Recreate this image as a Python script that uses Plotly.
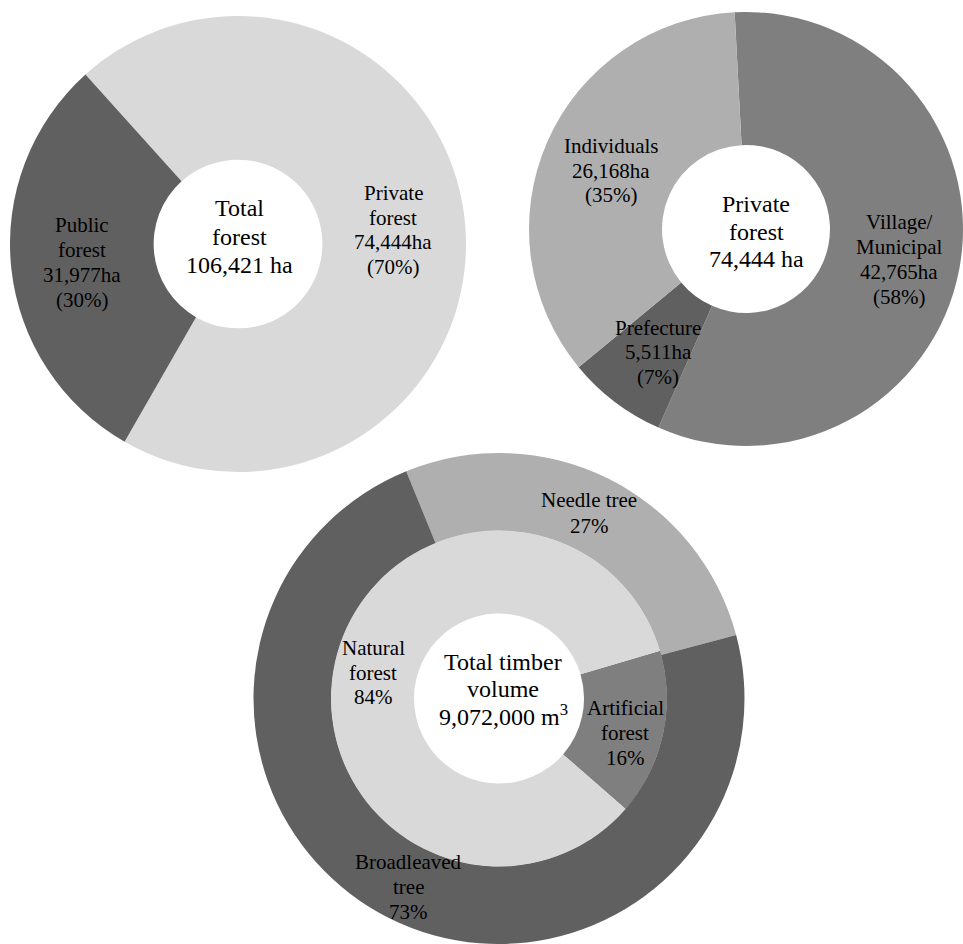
import plotly.graph_objects as go

# ---- data -------------------------------------------------------------
# Total forest area, split by ownership (ha)
own_names = ["Private\nforest", "Public\nforest"]
own_ha = [74444, 31977]
own_pct = [70, 30]
total_forest_ha = 106421

# Private forest, split by owner type (ha)
priv_names = ["Village/\nMunicipal", "Prefecture", "Individuals"]
priv_ha = [42765, 5511, 26168]
priv_pct = [58, 7, 35]
private_forest_ha = 74444

# Timber volume: tree type (outer ring) and forest origin (inner ring), %
tree_names = ["Needle tree", "Broadleaved\ntree"]
tree_pct = [27, 73]
origin_names = ["Artificial\nforest", "Natural\nforest"]
origin_pct = [16, 84]
timber_m3 = 9072000

# ---- styling ------------------------------------------------------------
W, H = 963, 944
FONT = "'Times New Roman', 'Liberation Serif', Tinos, serif"
own_colors = ["#d9d9d9", "#606060"]
priv_colors = ["#7f7f7f", "#606060", "#afafaf"]
tree_colors = ["#afafaf", "#606060"]
origin_colors = ["#7f7f7f", "#d9d9d9"]


def dom(x0, x1, y0, y1):
    """Pixel box (top-left origin) -> plotly domain in paper units."""
    return dict(x=[x0 / W, min(x1 / W, 1.0)], y=[max(1 - y1 / H, 0.0), 1 - y0 / H])


def donut(values, colors, domain, hole, rotation):
    return go.Pie(
        values=values,
        marker=dict(colors=colors, line=dict(width=0)),
        hole=hole,
        rotation=rotation,
        direction="clockwise",
        sort=False,
        textinfo="none",
        hoverinfo="skip",
        domain=domain,
    )


fig = go.Figure()
fig.add_trace(donut(own_ha, own_colors, dom(10, 466, 16, 472), 0.37, -42))
fig.add_trace(donut(priv_ha, priv_colors, dom(529, 963, 8, 450), 0.387, -3))
fig.add_trace(donut(tree_pct, tree_colors, dom(253, 745, 453, 944), 0.683, -22.2))
fig.add_trace(donut(origin_pct, origin_colors, dom(331, 667, 530.5, 866.5), 0.506, 73.5))

annotations = []


def label(lines, x, y, step, size):
    """Stacked text lines centred at pixel x, first line at pixel y."""
    for i, line in enumerate(lines):
        annotations.append(dict(
            text=line, x=x / W, y=1 - (y + i * step) / H,
            xref="paper", yref="paper", xanchor="center", yanchor="middle",
            showarrow=False, font=dict(family=FONT, size=size, color="#000000"),
        ))


# ownership donut
own_pos = [(393, 193, 24.7), (82, 225, 25)]
for name, ha, p, (x, y, s) in zip(own_names, own_ha, own_pct, own_pos):
    label(name.split("\n") + [f"{ha:,}ha", f"({p}%)"], x, y, s, 21)
label(["Total", "forest", f"{total_forest_ha:,} ha"], 239, 208, 28.5, 24)

# private forest donut
priv_pos = [(899, 222, 25), (658, 328, 24.5), (611, 146, 24.5)]
for name, ha, p, (x, y, s) in zip(priv_names, priv_ha, priv_pct, priv_pos):
    label(name.split("\n") + [f"{ha:,}ha", f"({p}%)"], x, y, s, 21)
label(["Private", "forest", f"{private_forest_ha:,} ha"], 756, 204, 27.5, 24)

# timber volume double ring
tree_pos = [(589, 500, 26), (408, 862, 25)]
for name, p, (x, y, s) in zip(tree_names, tree_pct, tree_pos):
    label(name.split("\n") + [f"{p}%"], x, y, s, 21)
origin_pos = [(625, 708, 25), (373, 648, 24.5)]
for name, p, (x, y, s) in zip(origin_names, origin_pct, origin_pos):
    label(name.split("\n") + [f"{p}%"], x, y, s, 21)
label(["Total timber", "volume", f"{timber_m3:,} m<sup>3</sup>"], 503, 662, 26.5, 24)

fig.update_layout(
    width=W, height=H,
    margin=dict(l=0, r=0, t=0, b=0),
    paper_bgcolor="white", plot_bgcolor="white",
    showlegend=False,
    annotations=annotations,
)

fig.write_html("out.html")
